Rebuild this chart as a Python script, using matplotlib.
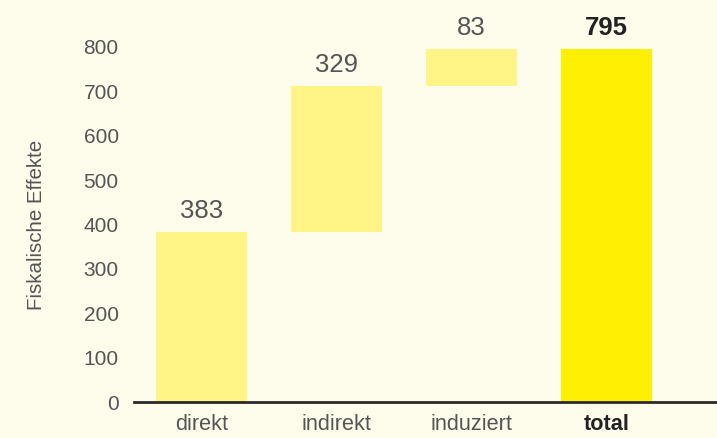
import matplotlib.pyplot as plt

plt.rcParams['font.family'] = ['Liberation Sans', 'DejaVu Sans']

# data
categories = ["direkt", "indirekt", "induziert", "total"]
values = [383, 329, 83, 795]
bottoms = [0, 383, 712, 0]
yticks = [0, 100, 200, 300, 400, 500, 600, 700, 800]

bg = "#FEFCEB"
light = "#FFF485"
strong = "#FFEF00"

fig = plt.figure(figsize=(7.17, 4.38), dpi=100, facecolor=bg)
ax = fig.add_axes([134/717, 36/438, 583/717, 355/438], facecolor=bg)

colors = [light, light, light, strong]
x = range(len(categories))
ax.bar(x, values, bottom=bottoms, width=0.67, color=colors, zorder=2)

for i, (v, b) in enumerate(zip(values, bottoms)):
    bold = categories[i] == "total"
    ax.text(i, b + v + 20, str(v), ha="center", va="bottom", fontsize=18.5,
            color="#222222" if bold else "#555555",
            fontweight="bold" if bold else "normal", clip_on=False)

ax.set_xlim(-0.5, 3.82)
ax.set_ylim(0, 800)
ax.set_yticks(yticks)
ax.set_xticks(list(x))
ax.set_xticklabels(categories)
for lbl in ax.get_xticklabels():
    if lbl.get_text() == "total":
        lbl.set_fontweight("bold")
        lbl.set_color("#222222")
    else:
        lbl.set_color("#555555")
ax.tick_params(axis="x", length=0, pad=9, labelsize=15.6)
ax.tick_params(axis="y", length=0, pad=11, labelsize=15, labelcolor="#555555")

for s in ["top", "right", "left"]:
    ax.spines[s].set_visible(False)
ax.spines["bottom"].set_color("#2a2a2a")
ax.spines["bottom"].set_linewidth(2)
ax.spines["bottom"].set_zorder(3)

ax.set_ylabel("Fiskalische Effekte", fontsize=14.8, color="#555555", labelpad=27)

fig.savefig("out.png", dpi=100, facecolor=bg)
